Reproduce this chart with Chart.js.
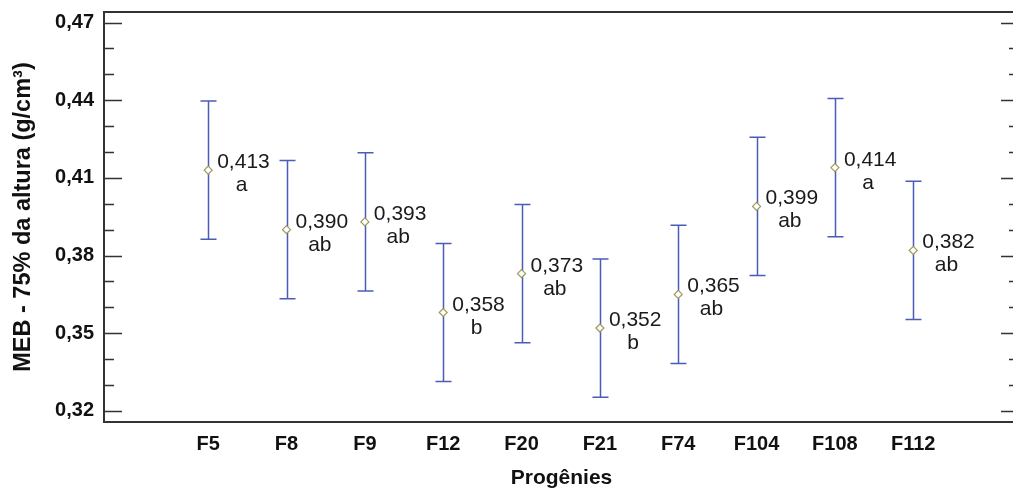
<!DOCTYPE html>
<html>
<head>
<meta charset="utf-8">
<script src="https://cdn.jsdelivr.net/npm/chart.js@4.4.1/dist/chart.umd.min.js"></script>
<style>
  html, body { margin: 0; padding: 0; overflow: hidden; background: #fff; }
  #wrap { position: relative; width: 1030px; height: 495px; }
</style>
</head>
<body>
<div id="wrap"><canvas id="chart"></canvas></div>
<script>
// Progenies and their means with interval limits
const categories = ['F5', 'F8', 'F9', 'F12', 'F20', 'F21', 'F74', 'F104', 'F108', 'F112'];
const means = [0.413, 0.390, 0.393, 0.358, 0.373, 0.352, 0.365, 0.399, 0.414, 0.382];
const lower = [0.3863, 0.3633, 0.3663, 0.3313, 0.3463, 0.3253, 0.3383, 0.3723, 0.3873, 0.3553];
const upper = [0.4397, 0.4167, 0.4197, 0.3847, 0.3997, 0.3787, 0.3917, 0.4257, 0.4407, 0.4087];
const meanLabels = ['0,413', '0,390', '0,393', '0,358', '0,373', '0,352', '0,365', '0,399', '0,414', '0,382'];
const groupLetters = ['a', 'ab', 'ab', 'b', 'ab', 'b', 'ab', 'ab', 'a', 'ab'];
const yTicks = [0.32, 0.35, 0.38, 0.41, 0.44, 0.47];
const yTickLabels = ['0,32', '0,35', '0,38', '0,41', '0,44', '0,47'];
const yMinorTicks = [0.33, 0.34, 0.36, 0.37, 0.39, 0.40, 0.42, 0.43, 0.45, 0.46];

const FONT = "'Liberation Sans', Arial, sans-serif";
const BAR_COLOR = '#4b5cb8';
const FRAME_COLOR = '#333333';

// Error bars, frame, inward ticks and mean labels
const decor = {
  id: 'decor',
  beforeDatasetsDraw(chart) {
    const ctx = chart.ctx;
    const xs = chart.scales.x, ys = chart.scales.y;
    ctx.save();
    ctx.strokeStyle = BAR_COLOR;
    ctx.lineWidth = 1.5;
    const cap = 8;
    for (let i = 0; i < categories.length; i++) {
      const px = Math.round(xs.getPixelForValue(i)) + 0.5;
      const yt = ys.getPixelForValue(upper[i]);
      const yb = ys.getPixelForValue(lower[i]);
      ctx.beginPath();
      ctx.moveTo(px, yt); ctx.lineTo(px, yb);
      ctx.moveTo(px - cap, yt); ctx.lineTo(px + cap, yt);
      ctx.moveTo(px - cap, yb); ctx.lineTo(px + cap, yb);
      ctx.stroke();
    }
    ctx.restore();
  },
  afterDatasetsDraw(chart) {
    const ctx = chart.ctx;
    const a = chart.chartArea;
    const xs = chart.scales.x, ys = chart.scales.y;
    ctx.save();
    // frame
    ctx.strokeStyle = FRAME_COLOR;
    ctx.lineWidth = 2;
    ctx.strokeRect(a.left, a.top, a.right - a.left, a.bottom - a.top);
    // inward ticks on left and right sides
    ctx.lineWidth = 1.5;
    ctx.beginPath();
    const tickSet = [[yTicks, 18], [yMinorTicks, 10]];
    for (const [vals, len] of tickSet) {
      for (const v of vals) {
        const py = Math.round(ys.getPixelForValue(v)) + 0.5;
        ctx.moveTo(a.left, py); ctx.lineTo(a.left + len, py);
        ctx.moveTo(a.right, py); ctx.lineTo(a.right - len, py);
      }
    }
    ctx.stroke();
    // mean value and group letter beside each marker
    ctx.fillStyle = '#1a1a1a';
    ctx.font = '21px ' + FONT;
    ctx.textBaseline = 'alphabetic';
    for (let i = 0; i < categories.length; i++) {
      const px = xs.getPixelForValue(i);
      const py = ys.getPixelForValue(means[i]);
      const w = ctx.measureText(meanLabels[i]).width;
      const cx = px + 9 + w / 2;
      ctx.textAlign = 'center';
      ctx.fillText(meanLabels[i], cx, py - 2);
      ctx.fillText(groupLetters[i], cx - 2, py + 21);
    }
    ctx.restore();
  }
};

const points = means.map((m, i) => ({ x: i, y: m }));

new Chart(document.getElementById('chart'), {
  type: 'scatter',
  data: {
    datasets: [{
      data: points,
      pointStyle: 'rectRot',
      pointRadius: 4,
      pointBorderWidth: 1.2,
      pointBorderColor: '#9c9a5a',
      pointBackgroundColor: '#ffffff'
    }]
  },
  options: {
    responsive: true,
    maintainAspectRatio: false,
    animation: false,
    layout: { padding: { left: 0, top: 12, right: 11, bottom: 0 } },
    plugins: { legend: { display: false }, tooltip: { enabled: false } },
    scales: {
      x: {
        type: 'linear',
        min: -1.33,
        max: 10.35,
        afterBuildTicks(scale) { scale.ticks = categories.map((c, i) => ({ value: i })); },
        afterFit(scale) {
          scale.height = 73;
          scale.paddingLeft = 0;
          scale.paddingRight = 0;
        },
        grid: { display: false, drawTicks: false },
        border: { display: false },
        ticks: {
          padding: 10,
          color: '#111',
          font: { family: FONT, size: 20, weight: 'bold' },
          autoSkip: false,
          maxRotation: 0,
          callback: (v) => categories[v] ?? ''
        },
        title: {
          display: true,
          text: 'Progênies',
          color: '#111',
          font: { family: FONT, size: 21, weight: 'bold' },
          padding: { top: 0, bottom: 4 }
        }
      },
      y: {
        min: 0.3157,
        max: 0.4741,
        afterBuildTicks(scale) { scale.ticks = yTicks.map(v => ({ value: v })); },
        afterFit(scale) {
          scale.width = 104;
          scale.paddingTop = 0;
          scale.paddingBottom = 0;
        },
        grid: { display: false, drawTicks: false },
        border: { display: false },
        ticks: {
          padding: 10,
          color: '#111',
          font: { family: FONT, size: 20, weight: 'bold' },
          callback: (v, i) => yTickLabels[i]
        },
        title: {
          display: true,
          text: 'MEB - 75% da altura (g/cm³)',
          color: '#111',
          font: { family: FONT, size: 23.5, weight: 'bold' },
          padding: { top: 9, bottom: 0 }
        }
      }
    }
  },
  plugins: [decor]
});
</script>
</body>
</html>
